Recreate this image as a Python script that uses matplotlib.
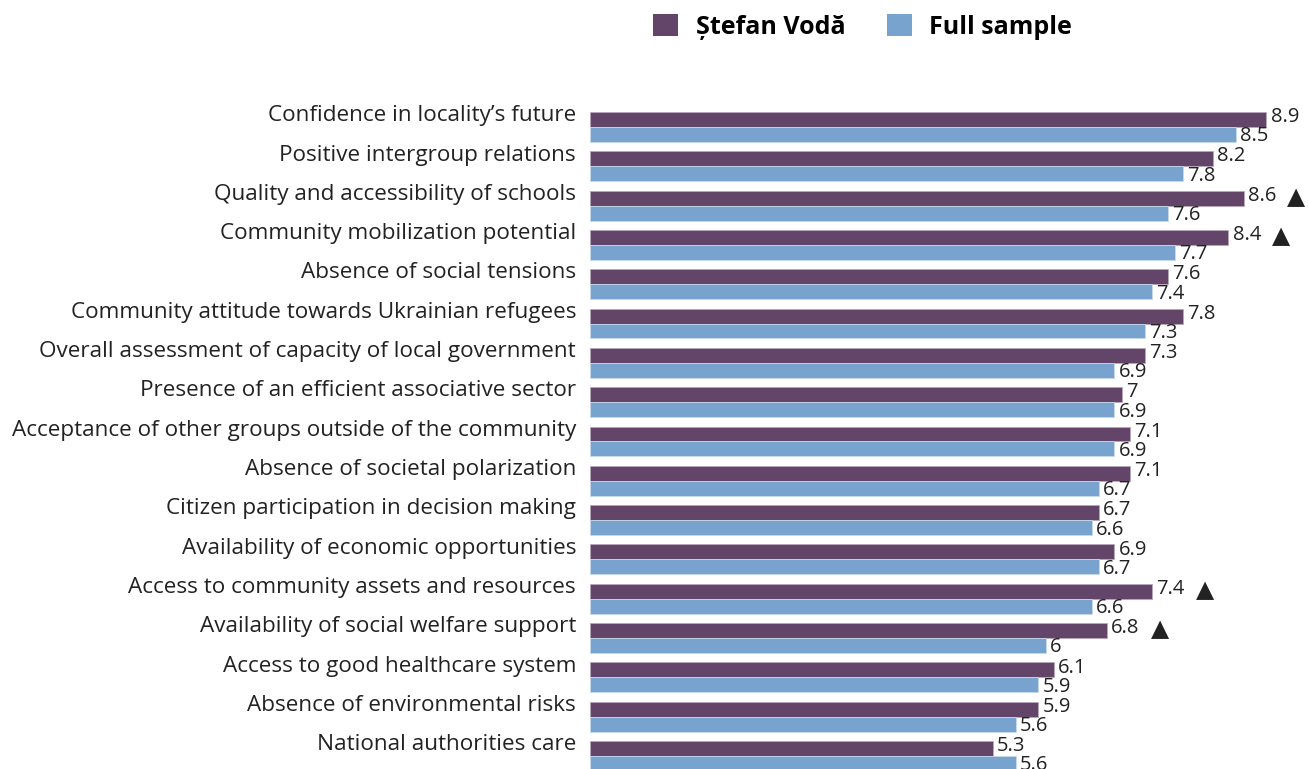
import numpy as np
import matplotlib.pyplot as plt
from matplotlib.patches import Patch

plt.rcParams.update({"font.family": ["Open Sans", "DejaVu Sans"], "font.size": 15})

# ── Data ──────────────────────────────────────────────────────────────────────
categories = [
    "Confidence in locality\u2019s future",
    "Positive intergroup relations",
    "Quality and accessibility of schools",
    "Community mobilization potential",
    "Absence of social tensions",
    "Community attitude towards Ukrainian refugees",
    "Overall assessment of capacity of local government",
    "Presence of an efficient associative sector",
    "Acceptance of other groups outside of the community",
    "Absence of societal polarization",
    "Citizen participation in decision making",
    "Availability of economic opportunities",
    "Access to community assets and resources",
    "Availability of social welfare support",
    "Access to good healthcare system",
    "Absence of environmental risks",
    "National authorities care",
]
stefan_voda = [8.9, 8.2, 8.6, 8.4, 7.6, 7.8, 7.3, 7, 7.1, 7.1, 6.7, 6.9, 7.4, 6.8, 6.1, 5.9, 5.3]
full_sample = [8.5, 7.8, 7.6, 7.7, 7.4, 7.3, 6.9, 6.9, 6.9, 6.7, 6.6, 6.7, 6.6, 6, 5.9, 5.6, 5.6]
significant = [False, False, True, True, False, False, False, False, False,
               False, False, False, True, True, False, False, False]

C_SV = "#634569"
C_FS = "#79A3CF"
C_TXT = "#222222"

W, H = 1309, 769
fig = plt.figure(figsize=(W / 100, H / 100), dpi=100)
fig.patch.set_facecolor("white")

left = 590 / W
top_px = 107.3
ax = fig.add_axes([left, 0, 1 - left, (H - top_px) / H])

y = np.arange(len(categories))
bh = 0.38
ax.barh(y - bh / 2, stefan_voda, height=bh, color=C_SV, edgecolor="#B9A7BC", linewidth=0.6)
ax.barh(y + bh / 2, full_sample, height=bh, color=C_FS, edgecolor="#C8D9EC", linewidth=0.6)

ax.set_xlim(0, 719 / 76)
ax.set_ylim(16 + 13 / 39.3, -0.5)
for s in ax.spines.values():
    s.set_visible(False)
ax.set_xticks([])
ax.set_yticks(y - 0.35)
ax.set_yticklabels(categories, fontsize=16.2, color=C_TXT)
ax.tick_params(axis="y", length=0, pad=10)

def fmt(v):
    return f"{v:g}"

for i in range(len(categories)):
    ax.annotate(fmt(stefan_voda[i]), (stefan_voda[i], y[i] - bh / 2 - 0.06),
                xytext=(3, 0), textcoords="offset points",
                ha="left", va="center", fontsize=14.5, color=C_TXT)
    ax.annotate(fmt(full_sample[i]), (full_sample[i], y[i] + bh / 2 + 0.05),
                xytext=(3, 0), textcoords="offset points",
                ha="left", va="center", fontsize=14.5, color=C_TXT)
    if significant[i]:
        ax.annotate("\u25B2", (stefan_voda[i], y[i] - bh / 2 - 0.03),
                    xytext=(38, 0), textcoords="offset points",
                    ha="center", va="center", fontsize=17, color=C_TXT,
                    family=["DejaVu Sans"])

handles = [Patch(facecolor=C_SV, label="\u0218tefan Vod\u0103"),
           Patch(facecolor=C_FS, label="Full sample")]
fig.legend(handles=handles, loc="center", bbox_to_anchor=(0.659, 0.965),
           ncol=2, frameon=False, prop={"weight": "bold", "size": 18},
           handlelength=1.0, handleheight=1.0, handletextpad=0.7,
           columnspacing=1.65)

fig.savefig("out.png", dpi=100, facecolor="white")
